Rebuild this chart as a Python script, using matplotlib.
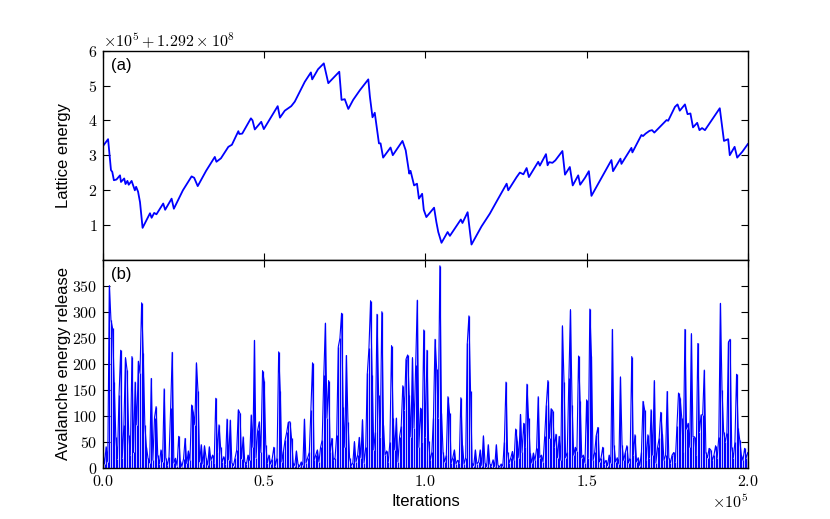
import matplotlib
matplotlib.use("Agg")
import matplotlib.pyplot as plt
from matplotlib.ticker import ScalarFormatter
import numpy as np

# Lattice energy: iteration, value above 1.292e8 in units of 1e5
lattice_base = 1.292e8
lattice_iter = [
    0, 1600, 2500, 2900, 3400, 4200, 5300, 5600, 6600, 7000, 7600, 8000, 8900,
    9900, 10300, 10900, 11500, 12300, 14600, 15100, 15900, 16600, 18700, 19300,
    21300, 22000, 24800, 27500, 28300, 29400, 32000, 34700, 35200, 36600, 38900,
    40000, 42000, 42300, 43200, 45900, 46400, 47100, 49100, 49900, 54200, 54900,
    56400, 58400, 59500, 62600, 64500, 64900, 66700, 68500, 69200, 69900, 70400,
    73300, 74000, 75000, 76100, 77600, 79700, 82300, 82800, 83600, 84300, 85600,
    86100, 86900, 89200, 89900, 92900, 93900, 95000, 95400, 96500, 97400, 98000,
    99000, 99500, 100300, 102700, 103400, 104000, 105000, 106900, 107600, 111000,
    111500, 113100, 114300, 117400, 120000, 122100, 125200, 125700, 128300,
    129300, 130400, 131400, 132100, 135000, 135500, 137400, 137900, 138400,
    139400, 140300, 142500, 143300, 144800, 145700, 147400, 148000, 149500,
    150700, 151500, 157700, 158200, 160500, 160800, 163900, 164200, 167000,
    167500, 168300, 169500, 170300, 171000, 172600, 174800, 175300, 177400,
    178200, 178900, 180500, 181300, 182200, 183000, 184300, 185000, 185800,
    186700, 191300, 192600, 193900, 194400, 195900, 196700, 198300, 200000]
lattice_rel = [
    3.26, 3.46, 2.57, 2.52, 2.28, 2.30, 2.42, 2.23, 2.33, 2.17, 2.26, 2.15, 2.26,
    1.99, 2.09, 1.95, 1.65, 0.91, 1.33, 1.20, 1.34, 1.30, 1.61, 1.43,
    1.75, 1.46, 1.99, 2.39, 2.35, 2.11, 2.55, 2.95, 2.81, 2.91, 3.24,
    3.30, 3.69, 3.61, 3.62, 4.06, 4.00, 3.74, 3.96, 3.75, 4.41, 4.08,
    4.28, 4.41, 4.54, 5.11, 5.38, 5.18, 5.47, 5.64, 5.36, 5.07, 5.12,
    5.40, 4.59, 4.61, 4.33, 4.59, 4.87, 5.18, 4.68, 4.09, 4.22, 3.34,
    3.34, 2.93, 3.22, 3.00, 3.41, 3.14, 2.47, 2.55, 2.13, 2.18, 1.75,
    1.89, 1.43, 1.22, 1.49, 1.08, 0.79, 0.48, 0.79, 0.68, 1.15,
    1.05, 1.36, 0.43, 0.95, 1.32, 1.67, 2.18, 1.99, 2.37,
    2.50, 2.45, 2.63, 2.37, 2.81, 2.70, 3.03, 2.71, 2.80,
    2.78, 2.85, 3.12, 2.44, 2.66, 2.13, 2.42, 2.15, 2.35,
    2.54, 1.83, 2.86, 2.54, 2.90, 2.75, 3.21, 3.08, 3.58,
    3.55, 3.62, 3.70, 3.72, 3.65, 3.80, 4.01, 3.99, 4.39,
    4.46, 4.28, 4.46, 4.18, 4.20, 3.80, 3.93, 3.72, 3.78,
    3.72, 4.35, 3.41, 3.46, 3.00, 3.24, 2.93, 3.10, 3.32]

# Avalanche energy release, one reading every 500 iterations
avalanche_step = 500
avalanche = [
    30, 8, 41, 12, 350, 284, 268, 166, 60, 18, 140, 226, 20, 83, 212, 188, 64, 25, 214, 30,
    165, 83, 205, 182, 317, 220, 83, 40, 19, 10, 172, 15, 97, 118, 25, 8, 35, 12, 152, 20,
    6, 22, 115, 222, 10, 19, 5, 61, 14, 3, 18, 57, 9, 33, 15, 121, 108, 83, 202, 147,
    12, 45, 8, 43, 20, 6, 41, 15, 25, 10, 134, 30, 83, 40, 12, 22, 8, 94, 16, 92,
    10, 5, 20, 35, 112, 105, 18, 60, 12, 8, 25, 15, 102, 40, 245, 20, 73, 89, 30, 187,
    167, 45, 10, 25, 8, 18, 40, 5, 20, 223, 147, 12, 33, 54, 69, 88, 89, 57, 10, 5,
    33, 8, 3, 12, 6, 94, 10, 20, 30, 112, 202, 15, 25, 35, 12, 40, 54, 179, 278, 96,
    168, 30, 57, 15, 20, 64, 233, 249, 297, 118, 40, 216, 89, 20, 5, 10, 51, 12, 25, 59,
    20, 93, 10, 40, 182, 230, 321, 179, 35, 70, 295, 140, 60, 300, 83, 25, 33, 12, 50, 235,
    96, 35, 96, 12, 60, 80, 158, 112, 209, 217, 140, 60, 212, 77, 198, 322, 40, 115, 50, 265,
    60, 226, 52, 15, 30, 96, 247, 191, 97, 388, 105, 30, 12, 25, 137, 105, 10, 20, 35, 8,
    15, 10, 135, 45, 8, 20, 239, 292, 147, 10, 5, 35, 8, 12, 35, 5, 62, 10, 3, 45,
    8, 5, 16, 3, 45, 6, 2, 8, 4, 51, 165, 30, 10, 20, 32, 15, 75, 52, 20, 103,
    30, 86, 40, 161, 97, 29, 10, 29, 15, 38, 137, 20, 25, 12, 61, 121, 168, 57, 114, 110,
    40, 65, 20, 61, 15, 273, 166, 20, 30, 172, 304, 121, 25, 40, 33, 215, 128, 20, 25, 10,
    131, 20, 305, 215, 15, 30, 63, 78, 12, 20, 40, 8, 15, 5, 25, 10, 266, 45, 12, 20,
    8, 175, 45, 15, 30, 43, 10, 20, 214, 25, 64, 12, 20, 5, 30, 128, 112, 15, 64, 20,
    112, 25, 168, 10, 40, 57, 107, 65, 15, 25, 147, 20, 10, 25, 30, 12, 80, 144, 134, 97,
    30, 266, 75, 86, 40, 258, 60, 60, 25, 239, 70, 102, 102, 188, 30, 20, 38, 35, 15, 25,
    43, 20, 60, 316, 150, 70, 50, 67, 242, 247, 40, 20, 50, 180, 76, 54, 25, 15, 38, 20,
    30]


class OffsetFormatter(ScalarFormatter):
    # put spaces around the "+" like the old style offset text
    def get_offset(self):
        s = super().get_offset()
        return s.replace(r"\mathdefault{+", r"+\mathdefault{")


plt.rcParams["font.family"] = "cmr10"
plt.rcParams["mathtext.fontset"] = "cm"
plt.rcParams["axes.formatter.use_mathtext"] = True
plt.rcParams["font.size"] = 11.5
label_font = {"family": "Liberation Sans", "size": 12}

lat_x = np.array(lattice_iter)
lat_y = lattice_base + np.array(lattice_rel) * 1e5
av_x = np.arange(len(avalanche)) * avalanche_step
av_y = np.array(avalanche)

fig, (ax1, ax2) = plt.subplots(2, 1, sharex=True, figsize=(8.3, 5.19), dpi=100)
fig.subplots_adjust(left=0.124, right=0.901, top=0.902, bottom=0.098, hspace=0)

ax1.plot(lat_x, lat_y, color="b", lw=1.3)
ax1.set_ylim(lattice_base, lattice_base + 6e5)
ax1.set_yticks(lattice_base + np.arange(1, 7) * 1e5)
fmt = OffsetFormatter(useOffset=lattice_base, useMathText=True)
fmt.set_powerlimits((-3, 4))
ax1.yaxis.set_major_formatter(fmt)
ax1.set_ylabel("Lattice energy", fontdict=label_font)
ax1.text(0.012, 0.965, "(a)", transform=ax1.transAxes, va="top", fontdict=label_font)

ax2.vlines(av_x, 0, av_y, color="b", lw=0.9)
ax2.plot(av_x, av_y, color="b", lw=0.8)
ax2.set_ylim(0, 400)
ax2.set_yticks(np.arange(0, 351, 50))
ax2.set_xlim(0, 200000)
ax2.set_xticks(np.arange(0, 200001, 50000))
xfmt = ScalarFormatter(useMathText=True)
xfmt.set_powerlimits((-3, 4))
ax2.xaxis.set_major_formatter(xfmt)
ax2.set_ylabel("Avalanche energy release", fontdict=label_font)
ax2.set_xlabel("Iterations", fontdict=label_font)
ax2.text(0.012, 0.965, "(b)", transform=ax2.transAxes, va="top", fontdict=label_font)

for ax in (ax1, ax2):
    ax.tick_params(direction="in", top=True, right=True, length=5, width=0.8, pad=4)
    ax.yaxis.set_label_coords(-0.05, 0.5)
    for sp in ax.spines.values():
        sp.set_linewidth(1.0)

fig.savefig("out.png", dpi=100)
